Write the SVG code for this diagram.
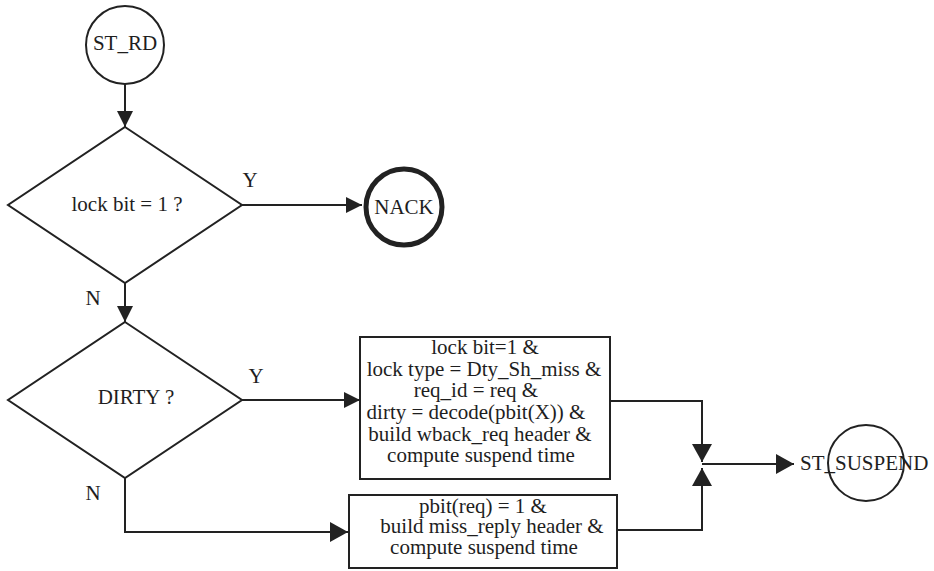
<svg xmlns="http://www.w3.org/2000/svg" width="934" height="571" viewBox="0 0 934 571">
  <style>
    .shape { fill: none; stroke: #222; stroke-width: 2; }
    .wire { fill: none; stroke: #222; stroke-width: 2; }
    .lbl { font-family: "Liberation Serif", "Times New Roman", serif; font-size: 21px; fill: #1e1e1e; }
    .mid { text-anchor: middle; }
  </style>
  <defs>
    <marker id="arrow" viewBox="0 0 16 16" refX="16" refY="8" markerWidth="16" markerHeight="16" markerUnits="userSpaceOnUse" orient="auto">
      <path d="M0,0 L16,8 L0,16 Z" fill="#222"/>
    </marker>
    <marker id="arrow-lg" viewBox="0 0 18 20" refX="18" refY="10" markerWidth="18" markerHeight="20" markerUnits="userSpaceOnUse" orient="auto">
      <path d="M0,0 L18,10 L0,20 Z" fill="#222"/>
    </marker>
  </defs>
  <rect width="934" height="571" fill="#fff"/>

  <!-- connectors -->
  <g id="connectors">
    <line class="wire" x1="125" y1="84" x2="125" y2="127" marker-end="url(#arrow)"/>
    <line class="wire" x1="242" y1="205" x2="362" y2="205" marker-end="url(#arrow)"/>
    <line class="wire" x1="125" y1="283" x2="125" y2="322" marker-end="url(#arrow)"/>
    <line class="wire" x1="242" y1="400" x2="360" y2="400" marker-end="url(#arrow)"/>
    <path class="wire" d="M125,478 V532 H348" marker-end="url(#arrow-lg)"/>
    <path class="wire" d="M610,401 H702 V462" marker-end="url(#arrow-lg)"/>
    <path class="wire" d="M617,530 H702 V468" marker-end="url(#arrow-lg)"/>
    <line class="wire" x1="702" y1="464" x2="794" y2="464" marker-end="url(#arrow-lg)"/>
    <text class="lbl mid" x="250" y="187">Y</text>
    <text class="lbl mid" x="93" y="305">N</text>
    <text class="lbl mid" x="256" y="383">Y</text>
    <text class="lbl mid" x="93" y="500">N</text>
  </g>

  <g id="st-rd">
    <circle class="shape" cx="125" cy="45" r="39"/>
    <text class="lbl mid" x="125" y="50">ST_RD</text>
  </g>

  <g id="lock-check">
    <polygon class="shape" points="125,127 242,205 125,283 8,205"/>
    <text class="lbl mid" x="127" y="211">lock bit = 1 ?</text>
  </g>

  <g id="nack">
    <circle fill="none" stroke="#222" stroke-width="5" cx="404" cy="207" r="38"/>
    <text class="lbl mid" x="404" y="214">NACK</text>
  </g>

  <g id="dirty-check">
    <polygon class="shape" points="125,322 242,400 125,478 8,400"/>
    <text class="lbl mid" x="136" y="404">DIRTY ?</text>
  </g>

  <g id="dirty-action">
    <rect class="shape" x="360" y="337" width="250" height="142"/>
    <text class="lbl mid" x="485" y="354">lock bit=1 &amp;</text>
    <text class="lbl mid" x="484" y="376">lock type = Dty_Sh_miss &amp;</text>
    <text class="lbl mid" x="476" y="397">req_id = req &amp;</text>
    <text class="lbl mid" x="476" y="419">dirty = decode(pbit(X)) &amp;</text>
    <text class="lbl mid" x="480" y="441">build wback_req header &amp;</text>
    <text class="lbl mid" x="481" y="462">compute suspend time</text>
  </g>

  <g id="clean-action">
    <rect class="shape" x="349" y="495" width="268" height="73"/>
    <text class="lbl mid" x="483" y="513">pbit(req) = 1 &amp;</text>
    <text class="lbl mid" x="492" y="533">build miss_reply header &amp;</text>
    <text class="lbl mid" x="484" y="554">compute suspend time</text>
  </g>

  <g id="st-suspend">
    <circle class="shape" cx="866" cy="463" r="38"/>
    <text class="lbl" x="800" y="470">ST_SUSPEND</text>
  </g>
</svg>
